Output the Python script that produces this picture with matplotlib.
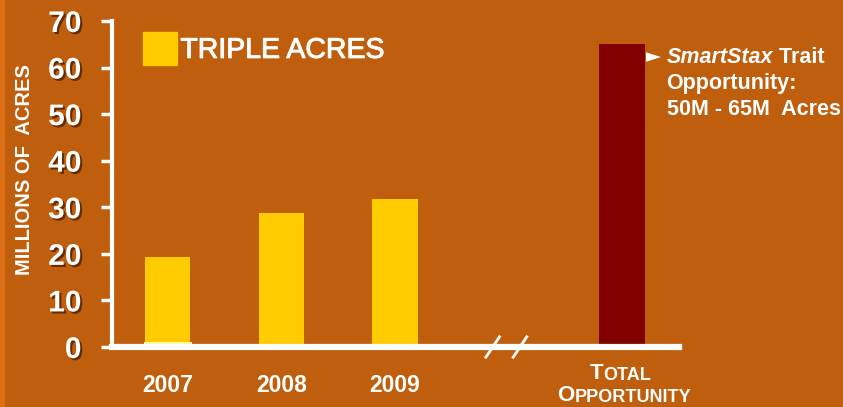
import matplotlib
matplotlib.use("Agg")
import matplotlib.pyplot as plt
import matplotlib.patheffects as pe
from matplotlib.patches import Rectangle

# data
categories = ["2007", "2008", "2009", "TOTAL OPPORTUNITY"]
positions = [0, 1, 2, 4]
base_acres = [1.0, 0, 0, 0]          # thin light strip at the bottom of 2007
triple_acres = [18.4, 28.8, 31.8, 0]
total_opportunity = [0, 0, 0, 65]
yticks = [0, 10, 20, 30, 40, 50, 60, 70]
break_pos = [2.86, 3.1]

bg = "#BF5E0C"
white = "white"
font = "Liberation Sans"

fig = plt.figure(figsize=(8.43, 4.07), dpi=100, facecolor=bg)
fig.patches.append(Rectangle((0, 0), 0.005, 1, transform=fig.transFigure,
                             color="#DD7016", zorder=0))
ax = fig.add_axes([0.1329, 0.1474, 0.6726, 0.801])
ax.set_facecolor(bg)

w = 0.4
ax.bar(positions, base_acres, width=w + 0.02, color="#FFF59A", zorder=3)
ax.bar(positions, triple_acres, width=w, bottom=base_acres, color="#FFCC00", zorder=3)
ax.bar(positions, total_opportunity, width=w, color="#800000", zorder=3)

ax.set_xlim(-0.49, 4.5)
ax.set_ylim(0, 70)

for s in ["top", "right"]:
    ax.spines[s].set_visible(False)
ax.spines["left"].set_color(white)
ax.spines["left"].set_linewidth(3)
ax.spines["bottom"].set_color(white)
ax.spines["bottom"].set_linewidth(4.5)
ax.spines["bottom"].set_zorder(5)

shadow = [pe.withSimplePatchShadow(offset=(1.5, -1.5), shadow_rgbFace="#5A2800", alpha=0.9)]
ax.set_yticks(yticks)
ax.set_yticklabels([str(t) for t in yticks], fontsize=21.5, fontweight="bold",
                   color=white, family=font, path_effects=shadow)
ax.tick_params(axis="y", direction="out", length=8, width=2.5, color=white, pad=14)
ax.tick_params(axis="x", length=0)
ax.set_xticks([])

# x labels
for p, c in zip(positions[:3], categories[:3]):
    ax.text(p, -8.2, c, ha="center", va="center", fontsize=16.5, fontweight="bold",
            color=white, family=font)

# small caps label for the total column
def small_caps(x, y, word):
    t = ax.text(x, y, word[0], ha="left", va="baseline", fontsize=16, fontweight="bold",
                color=white, family=font, clip_on=False)
    r = ax.annotate(word[1:], xy=(1, 0), xycoords=t, va="bottom", ha="left",
                    fontsize=13, fontweight="bold", color=white, family=font)
    return t, r

small_caps(3.71, -6.9, "TOTAL")
small_caps(3.43, -11.5, "OPPORTUNITY")

# axis break marks
for b in break_pos:
    ax.plot([b - 0.06, b + 0.06], [-2.2, 2.2], color=white, lw=2, clip_on=False, zorder=6)

ax.set_ylabel("MILLIONS OF  ACRES", fontsize=14.5, fontweight="bold", color=white,
              family=font)
ax.yaxis.set_label_coords(-0.138, 0.545)

# legend
thick = [pe.withStroke(linewidth=0.7, foreground=white)]
leg = ax.legend([Rectangle((0, 0), 1, 1, color="#FFCC00")], ["TRIPLE ACRES"],
                loc="upper left", bbox_to_anchor=(0.01, 1.045), frameon=False,
                handlelength=1.2, handleheight=1.4, handletextpad=0.1,
                prop={"family": font, "size": 20.5})
for t in leg.get_texts():
    t.set_color(white)
    t.set_path_effects(thick)

# annotation next to the total bar
fs = 15.5
ax.text(4.21, 62.4, "\u25BA", fontsize=14, color=white, va="center", ha="left",
        family="DejaVu Sans")
t1 = ax.text(4.39, 62.2, "SmartStax", fontsize=fs, fontweight="bold", style="italic",
             color=white, va="center", ha="left", family=font)
ax.annotate(" Trait", xy=(1, 0.5), xycoords=t1, va="center", ha="left", fontsize=fs,
            fontweight="bold", color=white, family=font)
ax.text(4.39, 56.6, "Opportunity:", fontsize=fs, fontweight="bold", color=white,
        va="center", ha="left", family=font)
ax.text(4.39, 50.9, "50M - 65M  Acres", fontsize=fs, fontweight="bold", color=white,
        va="center", ha="left", family=font, clip_on=False)

fig.savefig("out.png", dpi=100, facecolor=bg)
